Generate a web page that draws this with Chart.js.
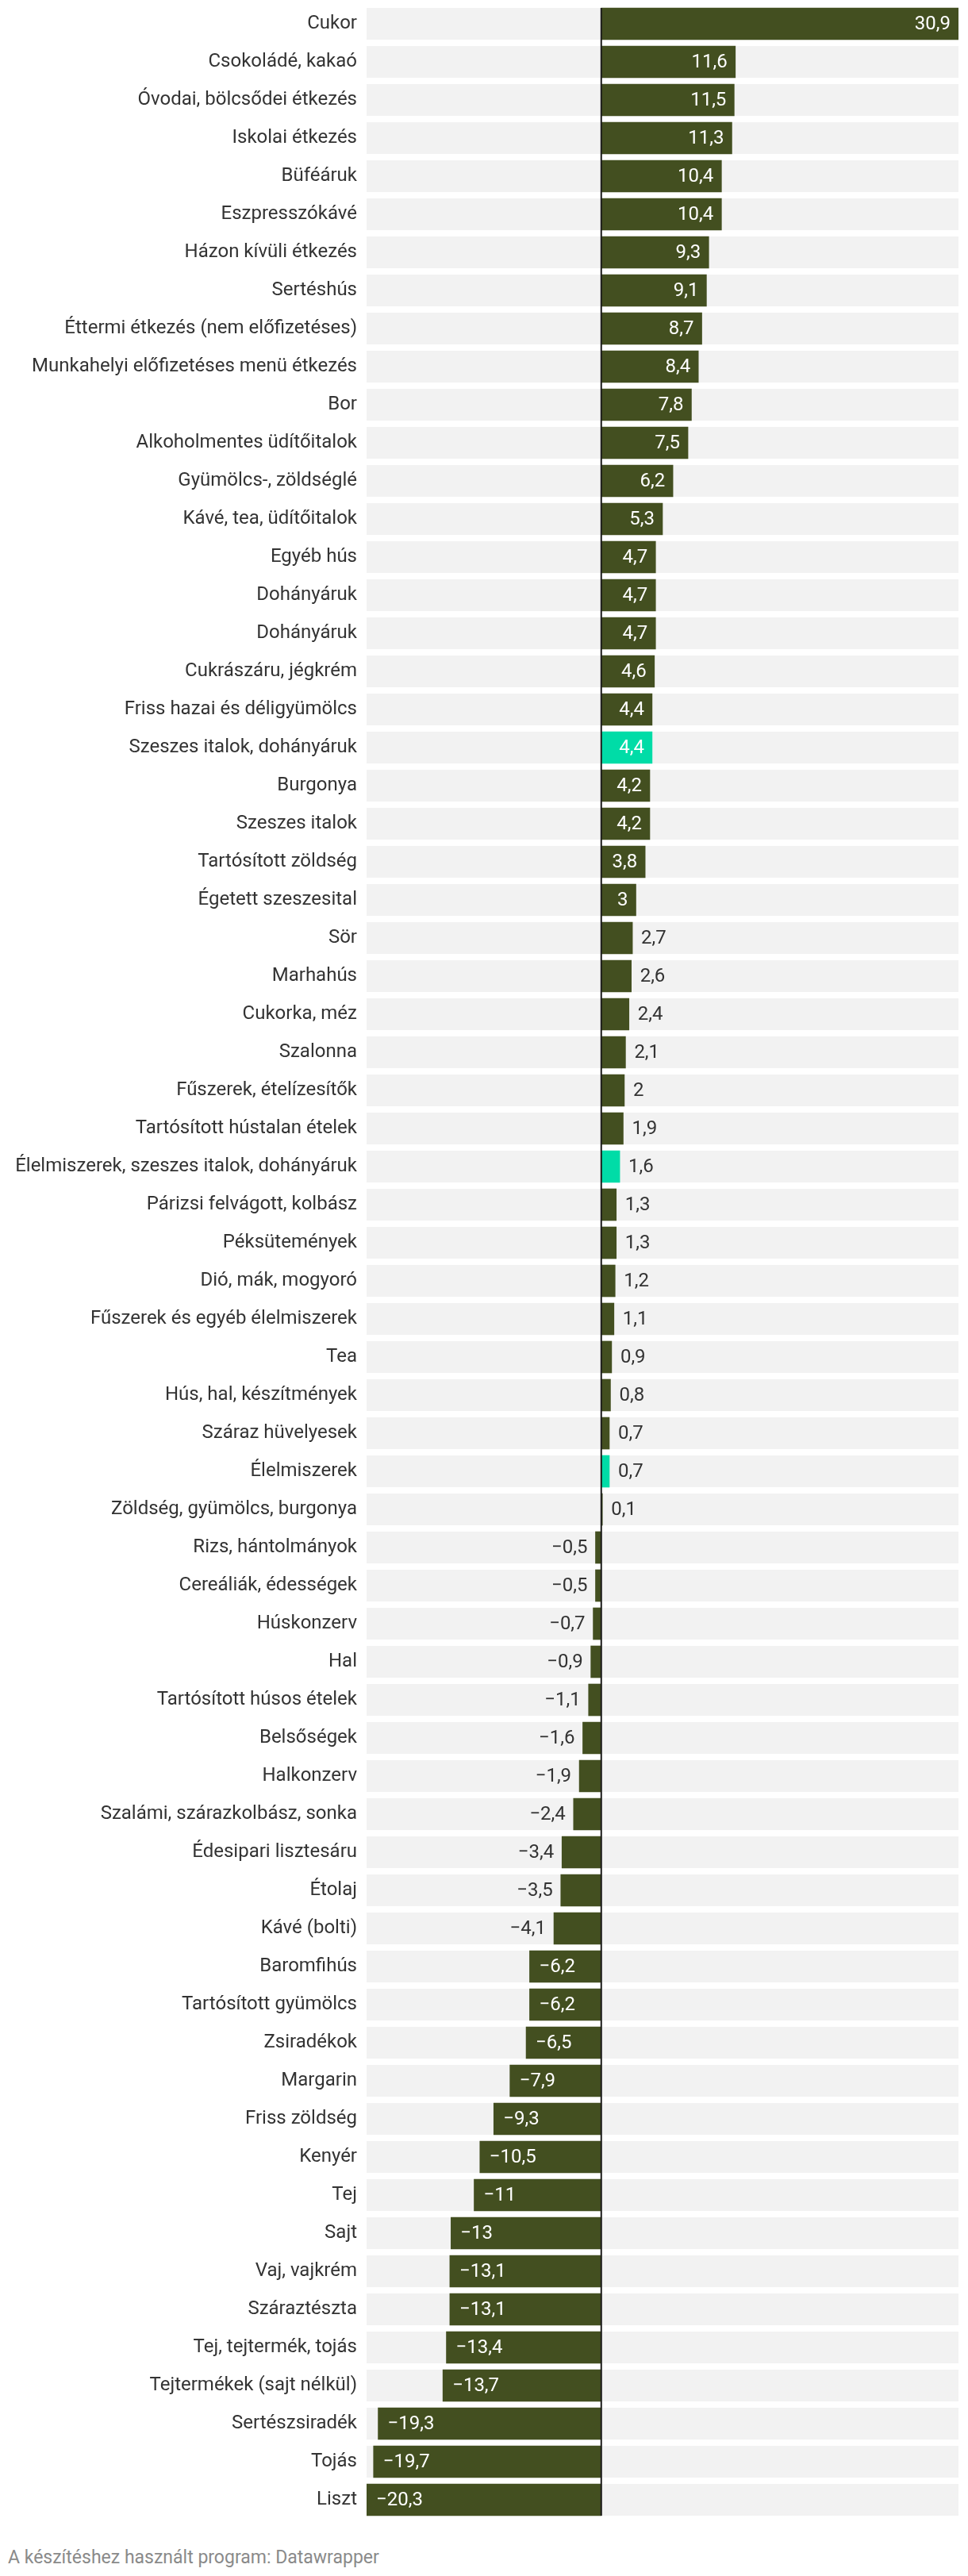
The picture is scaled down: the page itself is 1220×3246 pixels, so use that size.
<!DOCTYPE html>
<html>
<head>
<meta charset="utf-8">
<script src="https://cdn.jsdelivr.net/npm/chart.js@4/dist/chart.umd.min.js"></script>
<style>
  html, body { margin: 0; padding: 0; background: #fff; }
  #wrap { position: relative; width: 1220px; height: 3246px; }
  #chart { position: absolute; left: 0; top: 0; }
  #credit { position: absolute; left: 10px; top: 3209px; font: 23px Roboto, sans-serif; color: #8a8a8a; white-space: nowrap; }
</style>
</head>
<body>
<div id="wrap">
  <canvas id="chart" width="1220" height="3180"></canvas>
  <div id="credit">A készítéshez használt program: Datawrapper</div>
</div>
<script>
const categories = [
  "Cukor", "Csokoládé, kakaó", "Óvodai, bölcsődei étkezés", "Iskolai étkezés",
  "Büféáruk", "Eszpresszókávé", "Házon kívüli étkezés", "Sertéshús",
  "Éttermi étkezés (nem előfizetéses)", "Munkahelyi előfizetéses menü étkezés",
  "Bor", "Alkoholmentes üdítőitalok", "Gyümölcs-, zöldséglé", "Kávé, tea, üdítőitalok",
  "Egyéb hús", "Dohányáruk", "Dohányáruk", "Cukrászáru, jégkrém",
  "Friss hazai és déligyümölcs", "Szeszes italok, dohányáruk", "Burgonya", "Szeszes italok",
  "Tartósított zöldség", "Égetett szeszesital", "Sör", "Marhahús",
  "Cukorka, méz", "Szalonna", "Fűszerek, ételízesítők", "Tartósított hústalan ételek",
  "Élelmiszerek, szeszes italok, dohányáruk", "Párizsi felvágott, kolbász", "Péksütemények", "Dió, mák, mogyoró",
  "Fűszerek és egyéb élelmiszerek", "Tea", "Hús, hal, készítmények", "Száraz hüvelyesek",
  "Élelmiszerek", "Zöldség, gyümölcs, burgonya", "Rizs, hántolmányok", "Cereáliák, édességek",
  "Húskonzerv", "Hal", "Tartósított húsos ételek", "Belsőségek",
  "Halkonzerv", "Szalámi, szárazkolbász, sonka", "Édesipari lisztesáru", "Étolaj",
  "Kávé (bolti)", "Baromfihús", "Tartósított gyümölcs", "Zsiradékok",
  "Margarin", "Friss zöldség", "Kenyér", "Tej",
  "Sajt", "Vaj, vajkrém", "Száraztészta", "Tej, tejtermék, tojás",
  "Tejtermékek (sajt nélkül)", "Sertészsiradék", "Tojás", "Liszt"
];

const values = [
  30.9, 11.6, 11.5, 11.3,
  10.4, 10.4, 9.3, 9.1,
  8.7, 8.4,
  7.8, 7.5, 6.2, 5.3,
  4.7, 4.7, 4.7, 4.6,
  4.4, 4.4, 4.2, 4.2,
  3.8, 3, 2.7, 2.6,
  2.4, 2.1, 2, 1.9,
  1.6, 1.3, 1.3, 1.2,
  1.1, 0.9, 0.8, 0.7,
  0.7, 0.1, -0.5, -0.5,
  -0.7, -0.9, -1.1, -1.6,
  -1.9, -2.4, -3.4, -3.5,
  -4.1, -6.2, -6.2, -6.5,
  -7.9, -9.3, -10.5, -11,
  -13, -13.1, -13.1, -13.4,
  -13.7, -19.3, -19.7, -20.3
];

// aggregate rows shown in the accent colour
const highlighted = ["Szeszes italok, dohányáruk", "Élelmiszerek, szeszes italok, dohányáruk", "Élelmiszerek"];

const BAR = "#434f20";
const ACCENT = "#00dca7";
const FONT = "Roboto, sans-serif";

function fmt(v) {
  let s = String(Math.abs(v)).replace(".", ",");
  return v < 0 ? "\u2212" + s : s;
}

// grey row bands behind each bar
const bandPlugin = {
  id: "bands",
  beforeDatasetsDraw(chart) {
    const { ctx, chartArea, scales } = chart;
    ctx.save();
    ctx.fillStyle = "#f2f2f2";
    categories.forEach((c, i) => {
      const y = scales.y.getPixelForValue(i);
      ctx.fillRect(chartArea.left, y - 20, chartArea.right - chartArea.left, 40);
    });
    ctx.restore();
  }
};

// value labels + zero line
const labelPlugin = {
  id: "valueLabels",
  afterDatasetsDraw(chart) {
    const { ctx, chartArea, scales } = chart;
    const meta = chart.getDatasetMeta(0);
    const x0 = scales.x.getPixelForValue(0);
    ctx.save();
    ctx.fillStyle = "#1d1d1b";
    ctx.fillRect(x0 - 1, chartArea.top + 4, 2, chartArea.bottom - chartArea.top - 8);
    ctx.font = "24px " + FONT;
    ctx.textBaseline = "middle";
    const pad = 10;
    meta.data.forEach((bar, i) => {
      const v = values[i];
      const txt = fmt(v);
      const w = ctx.measureText(txt).width;
      const bw = Math.abs(bar.x - bar.base);
      const inside = w + 2 * pad <= bw;
      ctx.fillStyle = inside ? "#ffffff" : "#333333";
      if (v >= 0) {
        ctx.textAlign = inside ? "right" : "left";
        ctx.fillText(txt, inside ? bar.x - pad : bar.x + pad + 1, bar.y + 1);
      } else {
        ctx.textAlign = inside ? "left" : "right";
        ctx.fillText(txt, inside ? bar.x + pad + 2 : bar.x - pad, bar.y + 1);
      }
    });
    ctx.restore();
  }
};

new Chart(document.getElementById("chart"), {
  type: "bar",
  data: {
    labels: categories,
    datasets: [{
      data: values,
      backgroundColor: categories.map(c => highlighted.includes(c) ? ACCENT : BAR),
      barThickness: 40,
      borderWidth: 0
    }]
  },
  plugins: [bandPlugin, labelPlugin],
  options: {
    indexAxis: "y",
    responsive: false,
    animation: false,
    devicePixelRatio: 1,
    layout: { padding: { top: 6, bottom: 6, left: 0, right: 12 } },
    plugins: {
      legend: { display: false },
      tooltip: { enabled: false }
    },
    scales: {
      x: {
        min: -20.3,
        max: 30.9,
        display: false
      },
      y: {
        grid: { display: false, drawTicks: false },
        border: { display: false },
        ticks: {
          autoSkip: false,
          padding: 12,
          color: "#333333",
          font: { family: FONT, size: 24 }
        },
        afterFit(scale) {
          scale.width = 462;
          scale.paddingTop = 0;
          scale.paddingBottom = 0;
        }
      }
    }
  }
});
</script>
</body>
</html>
